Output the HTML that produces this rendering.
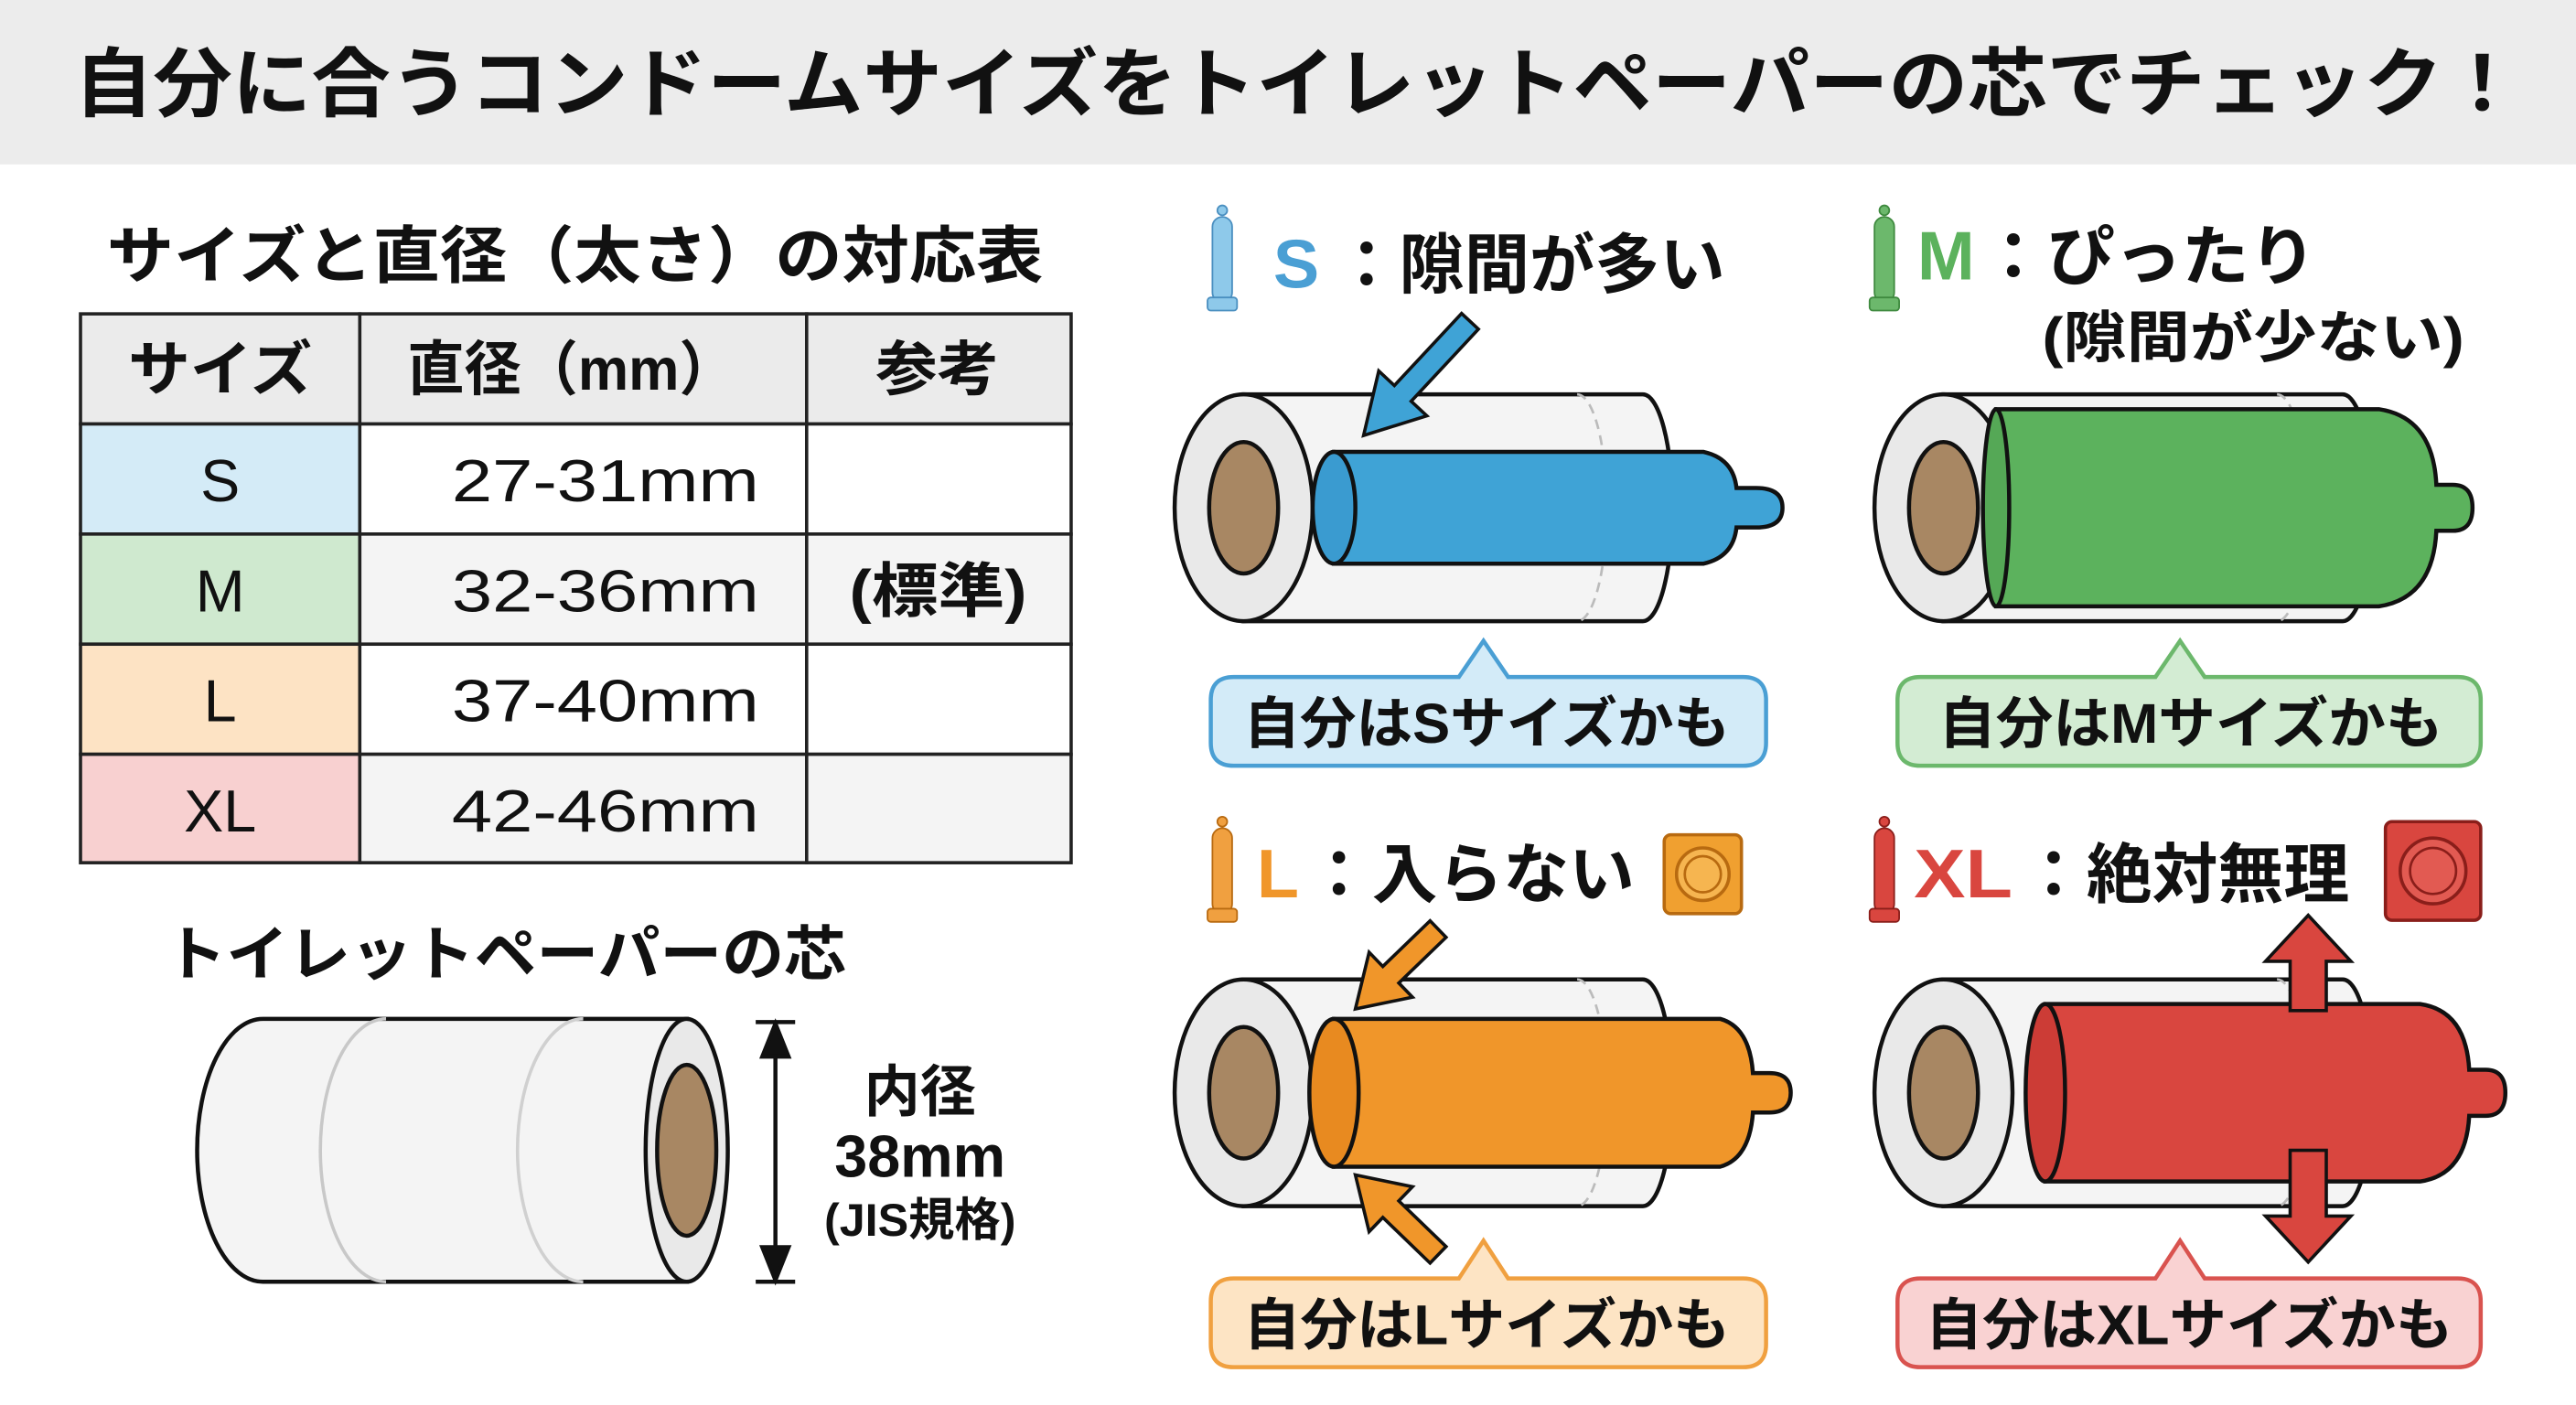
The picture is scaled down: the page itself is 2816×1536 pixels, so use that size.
<!DOCTYPE html>
<html><head><meta charset="utf-8">
<style>
html,body{margin:0;padding:0;background:#fff;}
svg{display:block;}
text{font-family:"Liberation Sans","Noto Sans CJK JP",sans-serif;font-weight:bold;fill:#111;}
text.n{font-weight:normal;}
</style></head>
<body>
<svg width="2816" height="1536" viewBox="0 0 1568 855" preserveAspectRatio="none" xmlns="http://www.w3.org/2000/svg">
<defs>
<g id="roll">
  <path d="M0,-69 L243,-69 A18,69 0 0 1 243,69 L0,69 Z" fill="#f4f4f4" stroke="#111" stroke-width="2.5"/>
  <path d="M203,-69 A18,69 0 0 1 203,69" fill="none" stroke="#bbb" stroke-width="1.5" stroke-dasharray="6,4"/>
  <ellipse cx="0" cy="0" rx="42" ry="69" fill="#e9e9e9" stroke="#111" stroke-width="2.5"/>
  <ellipse cx="0" cy="0" rx="21" ry="40" fill="#a88763" stroke="#111" stroke-width="2.5"/>
</g>
<g id="icon">
  <circle cx="7" cy="4" r="3"/>
  <rect x="1" y="8" width="12" height="52" rx="6"/>
  <rect x="-2" y="57" width="18" height="8" rx="2"/>
</g>
</defs>

<rect x="0" y="0" width="1568" height="100" fill="#ececec"/>
<text x="45" y="67" font-size="46" textLength="1490" lengthAdjust="spacingAndGlyphs">自分に合うコンドームサイズをトイレットペーパーの芯でチェック！</text>

<text x="65" y="169" font-size="38" textLength="570" lengthAdjust="spacingAndGlyphs">サイズと直径（太さ）の対応表</text>

<g stroke="#222" stroke-width="2">
<rect x="49" y="191" width="170" height="67" fill="#ebebeb"/>
<rect x="219" y="191" width="272" height="67" fill="#ebebeb"/>
<rect x="491" y="191" width="161" height="67" fill="#ebebeb"/>
<rect x="49" y="258" width="170" height="67" fill="#d4ebf7"/>
<rect x="219" y="258" width="272" height="67" fill="#fff"/>
<rect x="491" y="258" width="161" height="67" fill="#fff"/>
<rect x="49" y="325" width="170" height="67" fill="#cfe9cf"/>
<rect x="219" y="325" width="272" height="67" fill="#f4f4f4"/>
<rect x="491" y="325" width="161" height="67" fill="#f4f4f4"/>
<rect x="49" y="392" width="170" height="67" fill="#fde3c4"/>
<rect x="219" y="392" width="272" height="67" fill="#fff"/>
<rect x="491" y="392" width="161" height="67" fill="#fff"/>
<rect x="49" y="459" width="170" height="66" fill="#f8d0d0"/>
<rect x="219" y="459" width="272" height="66" fill="#f4f4f4"/>
<rect x="491" y="459" width="161" height="66" fill="#f4f4f4"/>
</g>
<g font-size="36">
<text x="78" y="237" textLength="112" lengthAdjust="spacingAndGlyphs">サイズ</text>
<text x="248" y="237" textLength="200" lengthAdjust="spacingAndGlyphs">直径（mm）</text>
<text x="533" y="237" textLength="75" lengthAdjust="spacingAndGlyphs">参考</text>
<text class="n" x="134" y="305" text-anchor="middle">S</text>
<text class="n" x="134" y="372" text-anchor="middle">M</text>
<text class="n" x="134" y="439" text-anchor="middle">L</text>
<text class="n" x="134" y="506" text-anchor="middle">XL</text>
<text class="n" x="275" y="305" textLength="187" lengthAdjust="spacingAndGlyphs">27-31mm</text>
<text class="n" x="275" y="372" textLength="187" lengthAdjust="spacingAndGlyphs">32-36mm</text>
<text class="n" x="275" y="439" textLength="187" lengthAdjust="spacingAndGlyphs">37-40mm</text>
<text class="n" x="275" y="506" textLength="187" lengthAdjust="spacingAndGlyphs">42-46mm</text>
<text x="517" y="372" textLength="108" lengthAdjust="spacingAndGlyphs">(標準)</text>
</g>

<text x="100" y="593" font-size="36" textLength="415" lengthAdjust="spacingAndGlyphs">トイレットペーパーの芯</text>
<path d="M160,620 L418,620 L418,780 L160,780 A40,80 0 0 1 160,620 Z" fill="#f4f4f4" stroke="#111" stroke-width="2.5"/>
<path d="M235,620 A40,80 0 0 0 235,780" fill="none" stroke="#c8c8c8" stroke-width="2"/>
<path d="M355,620 A40,80 0 0 0 355,780" fill="none" stroke="#d0d0d0" stroke-width="2"/>
<ellipse cx="418" cy="700" rx="25" ry="80" fill="#e9e9e9" stroke="#111" stroke-width="2.5"/>
<ellipse cx="418" cy="700" rx="18" ry="52" fill="#a88763" stroke="#111" stroke-width="2.5"/>
<g stroke="#111" stroke-width="2.5" fill="#111">
<line x1="472" y1="628" x2="472" y2="774"/>
<line x1="460" y1="622" x2="484" y2="622"/>
<line x1="460" y1="780" x2="484" y2="780"/>
<polygon points="472,623 464,643 480,643"/>
<polygon points="472,779 464,759 480,759"/>
</g>
<text x="560" y="676" font-size="34" text-anchor="middle">内径</text>
<text x="560" y="716" font-size="36" text-anchor="middle">38mm</text>
<text x="560" y="752" font-size="28" text-anchor="middle">(JIS規格)</text>

<use href="#icon" x="737" y="124" fill="#8ec9ea" stroke="#4a8fc0" stroke-width="1"/>
<text x="775" y="175" font-size="42" style="fill:#4a9fd4">S</text>
<text x="812" y="175" font-size="40" textLength="238" lengthAdjust="spacingAndGlyphs">：隙間が多い</text>
<use href="#roll" transform="translate(757,309)"/>
<g transform="translate(757,309)" stroke="#111" stroke-width="2.5">
<path d="M55,-34 L280,-34 Q298,-30 300,-12 L312,-12 Q328,-12 328,0 Q328,12 312,12 L300,12 Q298,30 280,34 L55,34 Z" fill="#3fa3d6"/>
<ellipse cx="55" cy="0" rx="13" ry="34" fill="#3a9bd0"/>
</g>
<g transform="translate(830,265) rotate(133)" fill="#3fa3d6" stroke="#111" stroke-width="2">
<polygon points="-95,-7 -35,-7 -35,-20 0,0 -35,20 -35,7 -95,7"/>
</g>
<path d="M751,412 L888,412 L903,390 L918,412 L1061,412 Q1075,412 1075,426 L1075,452 Q1075,466 1061,466 L751,466 Q737,466 737,452 L737,426 Q737,412 751,412 Z" fill="#d3ebf8" stroke="#4a9fd4" stroke-width="2.5"/>
<text x="757" y="452" font-size="34" textLength="296" lengthAdjust="spacingAndGlyphs">自分はSサイズかも</text>

<use href="#icon" x="1140" y="124" fill="#6cb86c" stroke="#3f8a3f" stroke-width="1"/>
<text x="1167" y="170" font-size="42" style="fill:#5cb25d">M</text>
<text x="1205" y="170" font-size="40" textLength="205" lengthAdjust="spacingAndGlyphs">：ぴったり</text>
<text x="1243" y="217" font-size="34" textLength="257" lengthAdjust="spacingAndGlyphs">(隙間が少ない)</text>
<use href="#roll" transform="translate(1183,309)"/>
<g transform="translate(1183,309)" stroke="#111" stroke-width="2.5">
<path d="M32,-60 L265,-60 Q298,-55 300,-14 L310,-14 Q322,-14 322,0 Q322,14 310,14 L300,14 Q298,55 265,60 L32,60 Z" fill="#5cb25d"/>
<ellipse cx="32" cy="0" rx="8" ry="60" fill="#55a856"/>
</g>
<path d="M1169,412 L1312,412 L1327,390 L1342,412 L1496,412 Q1510,412 1510,426 L1510,452 Q1510,466 1496,466 L1169,466 Q1155,466 1155,452 L1155,426 Q1155,412 1169,412 Z" fill="#d3ecd3" stroke="#6cb86c" stroke-width="2.5"/>
<text x="1180" y="452" font-size="34" textLength="307" lengthAdjust="spacingAndGlyphs">自分はMサイズかも</text>

<use href="#icon" x="737" y="496" fill="#f0a040" stroke="#b86a10" stroke-width="1"/>
<text x="765" y="546" font-size="42" style="fill:#f0962a">L</text>
<text x="795" y="546" font-size="40" textLength="200" lengthAdjust="spacingAndGlyphs">：入らない</text>
<rect x="1013" y="508" width="47" height="48" rx="4" fill="#f0a030" stroke="#b86a10" stroke-width="2"/>
<circle cx="1036.5" cy="532" r="16" fill="#f6b550" stroke="#b86a10" stroke-width="2"/>
<circle cx="1036.5" cy="532" r="11" fill="none" stroke="#b86a10" stroke-width="1.5"/>
<use href="#roll" transform="translate(757,665)"/>
<g transform="translate(757,665)" stroke="#111" stroke-width="2.5">
<path d="M55,-45 L290,-45 Q308,-40 310,-12 L320,-12 Q333,-12 333,0 Q333,12 320,12 L310,12 Q308,40 290,45 L55,45 Z" fill="#f0962a"/>
<ellipse cx="55" cy="0" rx="15" ry="45" fill="#e88a20"/>
</g>
<g fill="#f0962a" stroke="#111" stroke-width="2">
<polygon transform="translate(825,614) rotate(136)" points="-70,-7 -30,-7 -30,-19 0,0 -30,19 -30,7 -70,7"/>
<polygon transform="translate(825,715) rotate(-136)" points="-70,-7 -30,-7 -30,-19 0,0 -30,19 -30,7 -70,7"/>
</g>
<path d="M751,778 L888,778 L903,755 L918,778 L1061,778 Q1075,778 1075,792 L1075,818 Q1075,832 1061,832 L751,832 Q737,832 737,818 L737,792 Q737,778 751,778 Z" fill="#fde4c4" stroke="#f0a040" stroke-width="2.5"/>
<text x="757" y="818" font-size="34" textLength="296" lengthAdjust="spacingAndGlyphs">自分はLサイズかも</text>

<use href="#icon" x="1140" y="496" fill="#d9463f" stroke="#8a1e1a" stroke-width="1"/>
<text x="1165" y="546" font-size="42" textLength="60" lengthAdjust="spacingAndGlyphs" style="fill:#d9463f">XL</text>
<text x="1230" y="546" font-size="40" textLength="200" lengthAdjust="spacingAndGlyphs">：絶対無理</text>
<rect x="1452" y="500" width="58" height="60" rx="4" fill="#d9463f" stroke="#8a1e1a" stroke-width="2"/>
<circle cx="1481" cy="530" r="20" fill="#e25a52" stroke="#8a1e1a" stroke-width="2"/>
<circle cx="1481" cy="530" r="14" fill="none" stroke="#8a1e1a" stroke-width="1.5"/>
<use href="#roll" transform="translate(1183,665)"/>
<g transform="translate(1183,665)" stroke="#111" stroke-width="2.5">
<path d="M62,-54 L290,-54 Q318,-50 320,-14 L330,-14 Q342,-14 342,0 Q342,14 330,14 L320,14 Q318,50 290,54 L62,54 Z" fill="#d9463f"/>
<ellipse cx="62" cy="0" rx="12" ry="54" fill="#cc3c36"/>
</g>
<g fill="#d9463f" stroke="#111" stroke-width="2">
<polygon transform="translate(1405,557) rotate(-90)" points="-58,-11 -28,-11 -28,-26 0,0 -28,26 -28,11 -58,11"/>
<polygon transform="translate(1405,768) rotate(90)" points="-68,-11 -28,-11 -28,-26 0,0 -28,26 -28,11 -68,11"/>
</g>
<path d="M1169,778 L1312,778 L1327,755 L1342,778 L1496,778 Q1510,778 1510,792 L1510,818 Q1510,832 1496,832 L1169,832 Q1155,832 1155,818 L1155,792 Q1155,778 1169,778 Z" fill="#f9d2d2" stroke="#d9534f" stroke-width="2.5"/>
<text x="1172" y="818" font-size="34" textLength="321" lengthAdjust="spacingAndGlyphs">自分はXLサイズかも</text>
</svg>
</body></html>
